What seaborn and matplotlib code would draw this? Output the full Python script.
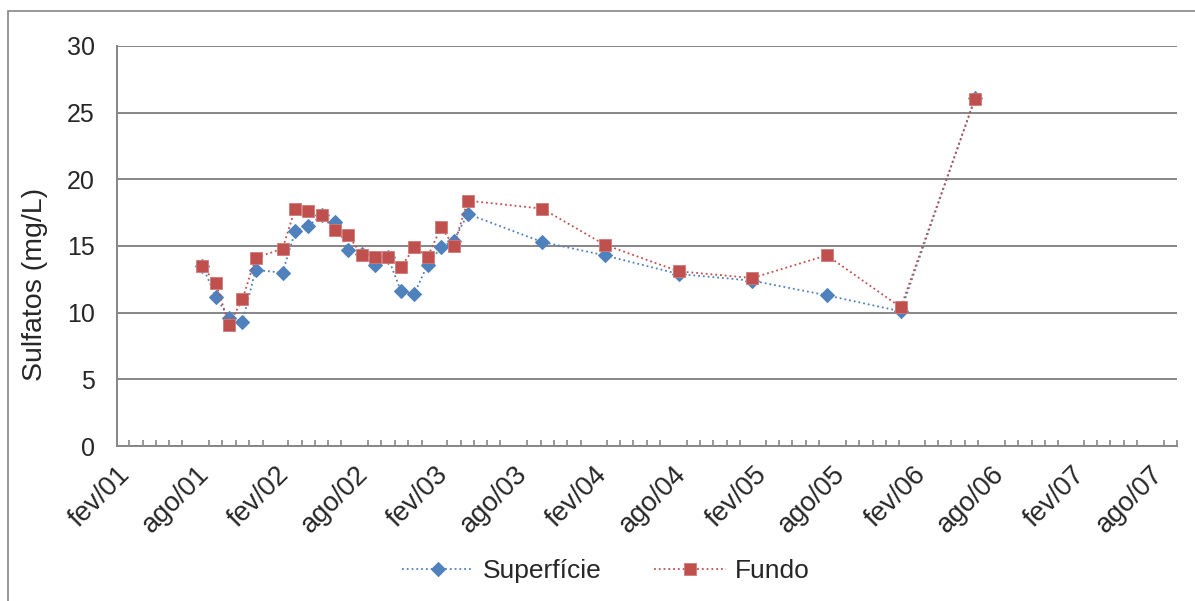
import matplotlib
matplotlib.use("Agg")
import matplotlib.pyplot as plt
import matplotlib.dates as mdates
from matplotlib.patches import Rectangle
from matplotlib.ticker import FuncFormatter, MultipleLocator
import pandas as pd
import seaborn as sns

# ── data ──
datas = [
    "2001-08-16", "2001-09-16", "2001-10-16", "2001-11-16", "2001-12-16",
    "2002-02-16", "2002-03-17", "2002-04-16", "2002-05-17", "2002-06-16",
    "2002-07-17", "2002-08-17", "2002-09-16", "2002-10-15", "2002-11-15",
    "2002-12-15", "2003-01-15", "2003-02-15", "2003-03-16", "2003-04-17",
    "2003-10-05", "2004-02-25", "2004-08-13", "2005-01-29", "2005-07-19",
    "2006-01-05", "2006-06-24",
]
superficie = [13.5, 11.2, 9.6, 9.3, 13.2, 13.0, 16.1, 16.5, 17.3, 16.8,
              14.7, 14.4, 13.6, 14.2, 11.6, 11.4, 13.6, 14.9, 15.4, 17.4,
              15.3, 14.3, 12.9, 12.4, 11.3, 10.1, 26.1]
fundo = [13.5, 12.2, 9.1, 11.0, 14.1, 14.8, 17.8, 17.6, 17.3, 16.2,
         15.8, 14.3, 14.2, 14.2, 13.4, 14.9, 14.2, 16.4, 15.0, 18.4,
         17.8, 15.1, 13.1, 12.6, 14.3, 10.4, 26.0]
meses = {2: "fev", 8: "ago"}
x_inicio, x_fim = "2001-02-01", "2007-10-01"

df = pd.DataFrame({"data": pd.to_datetime(datas),
                   "Superfície": superficie, "Fundo": fundo})

sns.set_style("white")
plt.rcParams["font.family"] = ["Liberation Sans", "DejaVu Sans"]

GRAY = "#868686"
BLUE = "#4F81BD"
RED = "#C0504D"

fig = plt.figure(figsize=(11.95, 6.01), dpi=100)
ax = fig.add_axes([0.0979, 0.2579, 0.8871, 0.6656])

sns.lineplot(data=df, x="data", y="Superfície", ax=ax, color=BLUE,
             linestyle=":", linewidth=1.3, marker="D", markersize=7.5,
             markeredgecolor=BLUE, label="Superfície")
sns.lineplot(data=df, x="data", y="Fundo", ax=ax, color=RED,
             linestyle=":", linewidth=1.3, marker="s", markersize=8.5,
             markeredgecolor="#D07A78", markeredgewidth=0.6, label="Fundo")

# ── axes ──
ax.set_ylim(0, 30)
ax.yaxis.set_major_locator(MultipleLocator(5))
ax.set_xlim(pd.Timestamp(x_inicio), pd.Timestamp(x_fim))
ax.xaxis.set_major_locator(mdates.MonthLocator(bymonth=[2, 8]))
ax.xaxis.set_minor_locator(mdates.MonthLocator())
ax.xaxis.set_major_formatter(FuncFormatter(
    lambda v, pos: f"{meses[mdates.num2date(v).month]}/{mdates.num2date(v):%y}"))

ax.grid(axis="y", color=GRAY, linewidth=1.4)
ax.set_axisbelow(True)
for side in ["top", "right"]:
    ax.spines[side].set_visible(False)
for side in ["left", "bottom"]:
    ax.spines[side].set_color(GRAY)
    ax.spines[side].set_linewidth(1.4)

ax.tick_params(axis="y", which="major", length=6, width=1.4, color=GRAY,
               direction="out", labelsize=18, pad=10)
ax.tick_params(axis="x", which="major", length=12, width=1.4, color=GRAY,
               direction="inout", labelsize=19.5, pad=5)
ax.tick_params(axis="x", which="minor", length=4, width=1.2, color=GRAY,
               direction="in", bottom=True)
for lbl in ax.get_xticklabels():
    lbl.set_rotation(45)
    lbl.set_ha("right")
    lbl.set_rotation_mode("anchor")

ax.set_xlabel("")
ax.set_ylabel("Sulfatos (mg/L)", fontsize=20.5)
ax.yaxis.set_label_coords(-0.065, 0.405)

ax.get_legend().remove()
handles, labels = ax.get_legend_handles_labels()
fig.legend(handles, labels, loc="center", bbox_to_anchor=(0.507, 0.05),
           ncol=2, frameon=False, fontsize=19, handlelength=2.7,
           handletextpad=0.35, columnspacing=2.0)

# outer chart frame
fig.patches.append(Rectangle((8 / 1195, -0.1), 1.2, (601 - 11) / 601 + 0.1,
                             transform=fig.transFigure, fill=False,
                             edgecolor=GRAY, linewidth=1.2))

fig.savefig("out.png", dpi=100)
